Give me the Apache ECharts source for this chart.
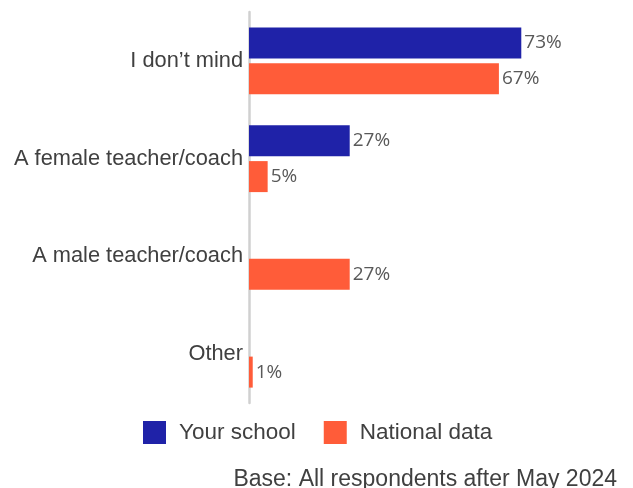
<!DOCTYPE html>
<html>
<head>
<meta charset="utf-8">
<script src="https://cdn.jsdelivr.net/npm/echarts@6/dist/echarts.min.js"></script>
<style>
  html, body { margin: 0; padding: 0; background: #fff; }
  #chart { width: 633px; height: 488px; }
</style>
</head>
<body>
<div id="chart"></div>
<script>
// Preference categories, top to bottom
const categories = ['I don\u2019t mind', 'A female teacher/coach', 'A male teacher/coach', 'Other'];
// Percentages per series
const yourSchool = [73, 27, 0, 0];
const nationalData = [67, 5, 27, 1];
const seriesNames = ['Your school', 'National data'];
const footnote = 'Base: All respondents after May 2024';

const chart = echarts.init(document.getElementById('chart'), null, { renderer: 'canvas' });

const valueLabel = {
  show: true,
  position: 'right',
  distance: 3,
  fontFamily: 'Open Sans',
  fontSize: 19,
  color: '#595959',
  formatter: p => (p.value > 0 ? p.value + '%' : '')
};

chart.setOption({
  animation: false,
  grid: { left: 249, right: 11, top: 12, bottom: 85, containLabel: false },
  xAxis: {
    type: 'value', min: 0, max: 100,
    show: false
  },
  yAxis: {
    type: 'category',
    inverse: true,
    data: categories,
    axisLine: { show: true, lineStyle: { color: '#d0d0d0', width: 2.5 } },
    axisTick: { show: false },
    axisLabel: {
      margin: 6,
      fontFamily: 'Liberation Sans',
      fontSize: 21.8,
      color: '#404040'
    }
  },
  legend: {
    top: 416,
    left: 138,
    itemWidth: 23,
    itemHeight: 23,
    itemGap: 28,
    icon: 'rect',
    textStyle: {
      fontFamily: 'Liberation Sans',
      fontSize: 22.5,
      color: '#404040',
      padding: [0, 0, 0, 8]
    },
    data: seriesNames
  },
  title: {
    text: footnote,
    right: 11,
    top: 463,
    textStyle: {
      fontFamily: 'Liberation Sans',
      fontSize: 23,
      fontWeight: 'normal',
      color: '#404040'
    }
  },
  series: [
    {
      name: seriesNames[0],
      type: 'bar',
      data: yourSchool,
      barWidth: 31,
      barGap: '16%',
      itemStyle: { color: '#1f22a8' },
      label: valueLabel
    },
    {
      name: seriesNames[1],
      type: 'bar',
      data: nationalData,
      barWidth: 31,
      itemStyle: { color: '#ff5c39' },
      label: valueLabel
    }
  ]
});
</script>
</body>
</html>
